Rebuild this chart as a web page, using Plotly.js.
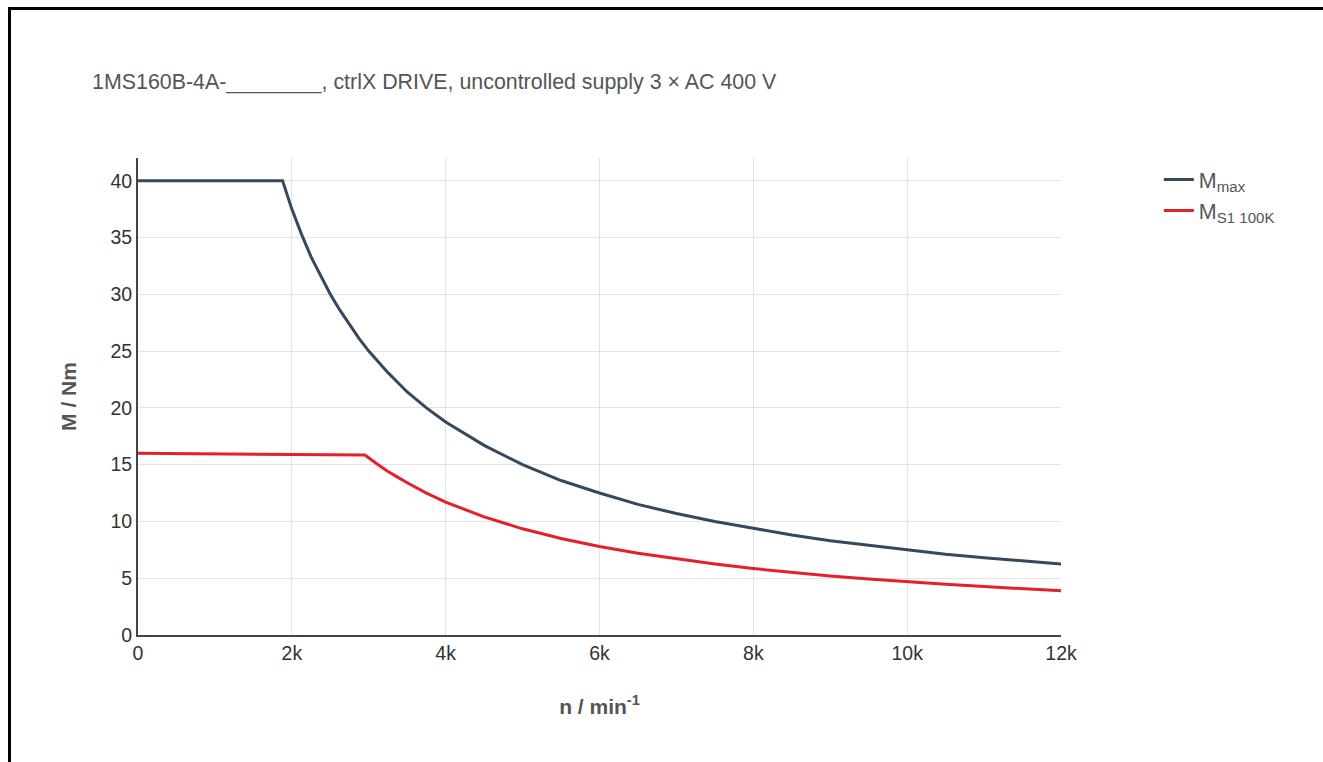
<!DOCTYPE html>
<html>
<head>
<meta charset="utf-8">
<script src="https://cdn.plot.ly/plotly-3.0.1.min.js"></script>
<style>
  html, body { margin: 0; padding: 0; background: #fff; overflow: hidden; }
  #chart { position: absolute; left: 0; top: 0; width: 1323px; height: 762px; }
  #frame { position: absolute; left: 8px; top: 7px; width: 1400px; height: 800px;
           border-left: 3px solid #000; border-top: 3px solid #000; pointer-events: none; }
</style>
</head>
<body>
<div id="chart"></div>
<div id="frame"></div>
<script>
// Speed n [min^-1] and torque M [Nm]
const nMax = [0, 1880, 2000, 2125, 2250, 2375, 2500, 2625, 2750, 2875, 3000, 3250, 3500, 3750, 4000, 4500, 5000, 5500, 6000, 6500, 7000, 7500, 8000, 8500, 9000, 9500, 10000, 10500, 11000, 11500, 12000];
const mMax = [40, 40, 37.5, 35.3, 33.3, 31.6, 30.0, 28.6, 27.3, 26.1, 25.0, 23.1, 21.4, 20.0, 18.75, 16.7, 15.0, 13.6, 12.5, 11.5, 10.7, 10.0, 9.4, 8.8, 8.3, 7.9, 7.5, 7.1, 6.8, 6.5, 6.25];

const nS1 = [0, 1000, 2000, 2950, 3100, 3250, 3375, 3500, 3750, 4000, 4500, 5000, 5500, 6000, 6500, 7000, 7500, 8000, 8500, 9000, 9500, 10000, 10500, 11000, 11500, 12000];
const mS1 = [16.0, 15.95, 15.9, 15.85, 15.1, 14.4, 13.9, 13.4, 12.5, 11.7, 10.4, 9.35, 8.5, 7.8, 7.2, 6.7, 6.25, 5.85, 5.5, 5.2, 4.93, 4.68, 4.46, 4.26, 4.07, 3.9];

const seriesNames = ['M<sub>max</sub>', 'M<sub>S1 100K</sub>'];
const titleText = '1MS160B-4A-________, ctrlX DRIVE, uncontrolled supply 3 × AC 400 V';
const xTickVals = [0, 2000, 4000, 6000, 8000, 10000, 12000];
const xTickText = ['0', '2k', '4k', '6k', '8k', '10k', '12k'];
const yTickVals = [0, 5, 10, 15, 20, 25, 30, 35, 40];

const font = 'Arial, "Liberation Sans", sans-serif';

const traces = [
  { x: nMax, y: mMax, name: seriesNames[0], type: 'scatter', mode: 'lines',
    line: { color: '#34495e', width: 3 }, hoverinfo: 'none' },
  { x: nS1, y: mS1, name: seriesNames[1], type: 'scatter', mode: 'lines',
    line: { color: '#e4202a', width: 3 }, hoverinfo: 'none' }
];

const layout = {
  width: 1323, height: 762,
  margin: { l: 138, r: 262, t: 158, b: 127 },
  paper_bgcolor: 'rgba(0,0,0,0)', plot_bgcolor: '#fff',
  font: { family: font, color: '#333', size: 19 },
  title: { text: titleText, x: 92 / 1323, xref: 'container', xanchor: 'left',
           y: 1 - 82 / 762, yref: 'container', yanchor: 'middle',
           font: { family: font, size: 21.4, color: '#555' } },
  xaxis: {
    range: [0, 12000], tickvals: xTickVals, ticktext: xTickText,
    showgrid: true, gridcolor: '#e3e3e3', gridwidth: 1,
    showline: true, linecolor: '#444', linewidth: 2, zeroline: false,
    ticks: '', tickfont: { size: 19.5, color: '#333' },
    title: { text: '<b>n / min<sup>-1</sup></b>', standoff: 36, font: { size: 21, color: '#555' } }
  },
  yaxis: {
    range: [0, 42], tickvals: yTickVals,
    showgrid: true, gridcolor: '#e3e3e3', gridwidth: 1,
    showline: true, linecolor: '#444', linewidth: 2, zeroline: false,
    ticks: '', tickfont: { size: 19.5, color: '#333' },
    title: { text: '<b>M / Nm</b>', standoff: 28, font: { size: 21, color: '#555' } }
  },
  legend: { x: 1.106, xanchor: 'left', y: 1 - (159 - 158) / 477, yanchor: 'top',
            font: { size: 21.5, color: '#555' }, tracegroupgap: 0, bgcolor: 'rgba(0,0,0,0)' },
  showlegend: true
};

Plotly.newPlot('chart', traces, layout, { displayModeBar: false, staticPlot: true });
</script>
</body>
</html>
